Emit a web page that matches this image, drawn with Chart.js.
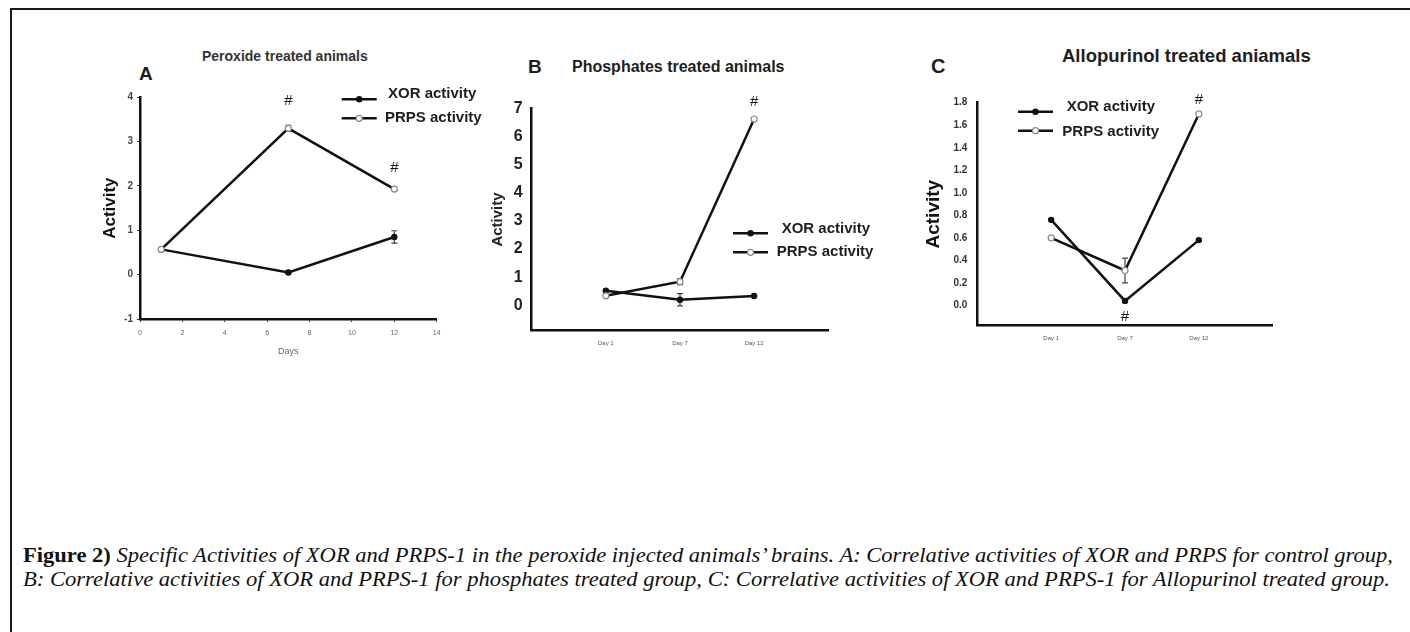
<!DOCTYPE html>
<html>
<head>
<meta charset="utf-8">
<title>Figure 2</title>
<script src="https://cdn.jsdelivr.net/npm/chart.js"></script>
<style>
    body {
        margin: 0;
        width: 1410px;
        height: 632px;
        overflow: hidden;
        position: relative;
        background: #fff;
        font-family: 'Liberation Sans', Arial, sans-serif;
    }
    .frame {
        position: absolute;
        left: 10px;
        top: 8px;
        width: 1410px;
        height: 640px;
        border-left: 2px solid #1a1a1a;
        border-top: 2px solid #1a1a1a;
    }
    .panel { position: absolute; }
    .lbl {
        position: absolute;
        font-weight: bold;
        color: #1e1e1e;
        white-space: nowrap;
        line-height: 1;
    }
    .cap {
        position: absolute;
        left: 23px;
        font-family: 'Liberation Serif', 'Times New Roman', serif;
        font-size: 22px;
        line-height: 22px;
        white-space: nowrap;
        color: #111;
        transform-origin: 0 0;
    }
</style>
</head>
<body>
<div class="frame"></div>

<div class="lbl" style="left:139px;top:64px;font-size:19px">A</div>
<div class="lbl" style="left:202px;top:49px;font-size:14px;color:#333">Peroxide treated animals</div>
<div class="lbl" style="left:528px;top:57px;font-size:19px">B</div>
<div class="lbl" style="left:572px;top:59px;font-size:16px">Phosphates treated animals</div>
<div class="lbl" style="left:931px;top:56px;font-size:20px">C</div>
<div class="lbl" style="left:1062px;top:47px;font-size:18.5px">Allopurinol treated aniamals</div>

<canvas class="panel" id="chartA" width="400" height="340" style="left:90px;top:40px"></canvas>
<canvas class="panel" id="chartB" width="420" height="340" style="left:480px;top:40px"></canvas>
<canvas class="panel" id="chartC" width="400" height="340" style="left:900px;top:40px"></canvas>

<div class="cap" id="cap1" style="top:544px"><b>Figure 2)</b> <i>Specific Activities of XOR and PRPS-1 in the peroxide injected animals’ brains. A: Correlative activities of XOR and PRPS for control group,</i></div>
<div class="cap" id="cap2" style="top:568px"><i>B: Correlative activities of XOR and PRPS-1 for phosphates treated group, C: Correlative activities of XOR and PRPS-1 for Allopurinol treated group.</i></div>

<script>
// A - peroxide (x = days)
const daysA = [1, 7, 12];
const xorA = [0.57, 0.05, 0.85];
const xorErrA = [0, 0.03, 0.14];
const prpsA = [0.57, 3.3, 1.93];
const prpsErrA = [0, 0.07, 0.03];

// B and C use Day 1 / Day 7 / Day 12 categories
const dayPos = [1, 2, 3];
const dayLabels = ['Day 1', 'Day 7', 'Day 12'];

const xorB = [0.52, 0.2, 0.33];
const xorErrB = [0, 0.22, 0];
const prpsB = [0.34, 0.84, 6.62];
const prpsErrB = [0, 0.1, 0];
const yTicksB = [0, 1, 2, 3, 4, 5, 6, 7];

const xorC = [0.76, 0.04, 0.58];
const xorErrC = [0, 0.01, 0];
const prpsC = [0.6, 0.31, 1.7];
const prpsErrC = [0, 0.11, 0];
const yTicksC = [0, 0.2, 0.4, 0.6, 0.8, 1.0, 1.2, 1.4, 1.6, 1.8];

const seriesNames = ['XOR activity', 'PRPS activity'];

Chart.defaults.font.family = "'Liberation Sans', Arial, sans-serif";
Chart.defaults.animation = false;

const toPoints = (xs, ys) => xs.map((x, i) => ({ x: x, y: ys[i] }));

function lineSet(label, xs, ys, errs, filled) {
    return {
        label: label,
        data: toPoints(xs, ys),
        errors: errs,
        order: filled ? 1 : 0,
        borderColor: '#111',
        borderWidth: 2.5,
        tension: 0,
        pointRadius: filled ? 2.6 : 3,
        pointBackgroundColor: filled ? '#111' : '#fff',
        pointBorderColor: filled ? '#111' : '#8a8a8a',
        pointBorderWidth: 1.2
    };
}

// error bars, # marks and the legend
const panelExtras = {
    id: 'panelExtras',
    beforeDatasetsDraw(chart) {
        const ctx = chart.ctx;
        const xs = chart.scales.x, ys = chart.scales.y;
        ctx.save();
        ctx.strokeStyle = '#444';
        ctx.lineWidth = 1.2;
        chart.data.datasets.forEach(ds => {
            ds.data.forEach((p, i) => {
                const e = ds.errors[i];
                if (!e) return;
                const x = xs.getPixelForValue(p.x);
                const y1 = ys.getPixelForValue(p.y + e);
                const y2 = ys.getPixelForValue(p.y - e);
                ctx.beginPath();
                ctx.moveTo(x, y1); ctx.lineTo(x, y2);
                ctx.moveTo(x - 3, y1); ctx.lineTo(x + 3, y1);
                ctx.moveTo(x - 3, y2); ctx.lineTo(x + 3, y2);
                ctx.stroke();
            });
        });
        ctx.restore();
    },
    afterDatasetsDraw(chart, args, opts) {
        const ctx = chart.ctx;
        const xs = chart.scales.x, ys = chart.scales.y;
        ctx.save();
        ctx.fillStyle = '#111';
        ctx.font = '15px "Liberation Sans", Arial, sans-serif';
        ctx.textAlign = 'center';
        ctx.textBaseline = 'middle';
        (opts.hashes || []).forEach(h => {
            const p = chart.data.datasets[h.ds].data[h.i];
            ctx.fillText('#', xs.getPixelForValue(p.x), ys.getPixelForValue(p.y) + h.dy);
        });

        const lg = opts.legend;
        chart.data.datasets.forEach((ds, k) => {
            const y = lg.lineY[k];
            ctx.strokeStyle = '#111';
            ctx.lineWidth = 2.5;
            ctx.beginPath();
            ctx.moveTo(lg.x, y);
            ctx.lineTo(lg.x + 35, y);
            ctx.stroke();
            ctx.beginPath();
            ctx.arc(lg.x + 17.5, y, ds.pointRadius, 0, Math.PI * 2);
            ctx.fillStyle = ds.pointBackgroundColor;
            ctx.fill();
            ctx.lineWidth = ds.pointBorderWidth;
            ctx.strokeStyle = ds.pointBorderColor;
            ctx.stroke();

            ctx.fillStyle = '#1e1e1e';
            ctx.font = 'bold 15px "Liberation Sans", Arial, sans-serif';
            ctx.textAlign = 'left';
            ctx.fillText(ds.label, lg.textX[k], lg.textY[k]);
        });
        ctx.restore();
    }
};

const border = { display: true, color: '#111', width: 2.5 };
const noGrid = { display: false, drawTicks: false };
const tickGrid = { display: true, drawOnChartArea: false, drawTicks: true, tickLength: 3, color: '#333' };

// A
new Chart(document.getElementById('chartA'), {
    type: 'line',
    data: {
        datasets: [
            lineSet(seriesNames[0], daysA, xorA, xorErrA, true),
            lineSet(seriesNames[1], daysA, prpsA, prpsErrA, false)
        ]
    },
    options: {
        responsive: false,
        events: [],
        layout: { padding: { left: 0, top: 57.3, right: 53.3, bottom: 22.9 } },
        plugins: {
            legend: { display: false },
            tooltip: { enabled: false },
            panelExtras: {
                hashes: [{ ds: 1, i: 1, dy: -27 }, { ds: 1, i: 2, dy: -21 }],
                legend: { x: 251.7, lineY: [59.3, 78.3], textX: [298, 295], textY: [54, 78.3] }
            }
        },
        scales: {
            x: {
                type: 'linear', min: 0, max: 14,
                ticks: { stepSize: 2, font: { size: 7 }, color: '#666', padding: 6.5 },
                grid: tickGrid,
                border: border,
                title: { display: true, text: 'Days', font: { size: 9 }, color: '#666', padding: 0 },
                afterFit: s => { s.height = 38.1; }
            },
            y: {
                min: -1, max: 4,
                ticks: { stepSize: 1, font: { size: 10, weight: 'bold' }, color: '#444', padding: 4 },
                grid: tickGrid,
                border: border,
                title: { display: true, text: 'Activity', font: { size: 17, weight: 'bold' }, color: '#111', padding: { top: 9.8, bottom: 0 } },
                afterFit: s => { s.width = 50; }
            }
        }
    },
    plugins: [panelExtras]
});

function dayAxis() {
    return {
        type: 'linear', min: 0, max: 4,
        afterBuildTicks: s => { s.ticks = dayPos.map(v => ({ value: v })); },
        ticks: { callback: (v, i) => dayLabels[i], font: { size: 6 }, color: '#555', padding: 8.7, maxRotation: 0 },
        grid: noGrid,
        border: border,
        afterFit: s => { s.height = 30; }
    };
}

// B
new Chart(document.getElementById('chartB'), {
    type: 'line',
    data: {
        datasets: [
            lineSet(seriesNames[0], dayPos, xorB, xorErrB, true),
            lineSet(seriesNames[1], dayPos, prpsB, prpsErrB, false)
        ]
    },
    options: {
        responsive: false,
        events: [],
        layout: { padding: { left: 0, top: 68.3, right: 71.7, bottom: 19.3 } },
        plugins: {
            legend: { display: false },
            tooltip: { enabled: false },
            panelExtras: {
                hashes: [{ ds: 1, i: 2, dy: -17 }],
                legend: { x: 253, lineY: [193.3, 212.3], textX: [301.7, 296.7], textY: [188.5, 212.3] }
            }
        },
        scales: {
            x: dayAxis(),
            y: {
                min: -0.9, max: 7,
                afterBuildTicks: s => { s.ticks = yTicksB.map(v => ({ value: v })); },
                ticks: { font: { size: 16, weight: 'bold' }, color: '#222', padding: 9 },
                grid: noGrid,
                border: border,
                title: { display: true, text: 'Activity', font: { size: 15, weight: 'bold' }, color: '#222', padding: { top: 9.3, bottom: 0 } },
                afterFit: s => { s.width = 51.7; }
            }
        }
    },
    plugins: [panelExtras]
});

// C
new Chart(document.getElementById('chartC'), {
    type: 'line',
    data: {
        datasets: [
            lineSet(seriesNames[0], dayPos, xorC, xorErrC, true),
            lineSet(seriesNames[1], dayPos, prpsC, prpsErrC, false)
        ]
    },
    options: {
        responsive: false,
        events: [],
        layout: { padding: { left: 0, top: 62.7, right: 27.3, bottom: 24.3 } },
        plugins: {
            legend: { display: false },
            tooltip: { enabled: false },
            panelExtras: {
                hashes: [{ ds: 1, i: 2, dy: -14 }, { ds: 0, i: 1, dy: 15.5 }],
                legend: { x: 118, lineY: [71.7, 90.7], textX: [166.7, 162.3], textY: [67, 91.5] }
            }
        },
        scales: {
            x: dayAxis(),
            y: {
                min: -0.18, max: 1.8,
                afterBuildTicks: s => { s.ticks = yTicksC.map(v => ({ value: v })); },
                ticks: { callback: v => v.toFixed(1), font: { size: 10, weight: 'bold' }, color: '#333', padding: 10 },
                grid: noGrid,
                border: border,
                title: { display: true, text: 'Activity', font: { size: 19, weight: 'bold' }, color: '#111', padding: { top: 22, bottom: 0 } },
                afterFit: s => { s.width = 77.3; }
            }
        }
    },
    plugins: [panelExtras]
});

// stretch caption lines to the measured widths
[['cap1', 1370], ['cap2', 1367]].forEach(([id, target]) => {
    const el = document.getElementById(id);
    const w = el.getBoundingClientRect().width;
    el.style.transform = 'scaleX(' + (target / w) + ')';
});
</script>
</body>
</html>
